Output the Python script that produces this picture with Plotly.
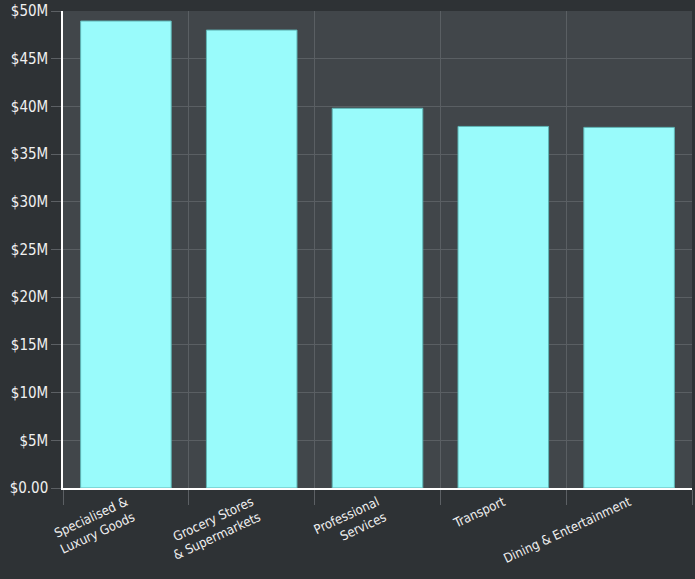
import plotly.graph_objects as go

categories = ["Specialised &<br>Luxury Goods", "Grocery Stores<br>& Supermarkets",
              "Professional<br>Services", "Transport", "Dining & Entertainment"]
values = [48.95e6, 48.0e6, 39.8e6, 37.9e6, 37.8e6]
ytick_vals = [0, 5e6, 10e6, 15e6, 20e6, 25e6, 30e6, 35e6, 40e6, 45e6, 50e6]
ytick_text = ["$0.00", "$5M", "$10M", "$15M", "$20M", "$25M", "$30M", "$35M", "$40M", "$45M", "$50M"]

fig = go.Figure(go.Bar(
    x=categories, y=values,
    marker=dict(color="#99fbfb", line=dict(color="#5fb5b5", width=1)),
    width=0.72,
))

fig.update_layout(
    width=695, height=579,
    margin=dict(l=63, r=3, t=11, b=91),
    paper_bgcolor="#2e3235",
    plot_bgcolor="#41464a",
    font=dict(family="DejaVu Sans Condensed, Liberation Sans Narrow, sans-serif", size=13, color="#f0f0f0"),
    showlegend=False,
    bargap=0.28,
)
fig.update_xaxes(
    tickson="boundaries", ticks="outside", ticklen=15, tickcolor="#5c6064", tickwidth=1,
    showgrid=True, gridcolor="#5a5f63", gridwidth=1,
    showline=True, linecolor="#ffffff", linewidth=1.5,
    tickangle=-25, tickfont=dict(size=13),
)
fig.update_yaxes(
    range=[0, 50e6], tickvals=ytick_vals, ticktext=ytick_text,
    ticks="outside", ticklen=10, tickcolor="#5c6064",
    showgrid=True, gridcolor="#5a5f63", gridwidth=1,
    showline=True, linecolor="#ffffff", linewidth=1.5,
    zeroline=False, tickfont=dict(size=15),
)

fig.write_html("out.html")
